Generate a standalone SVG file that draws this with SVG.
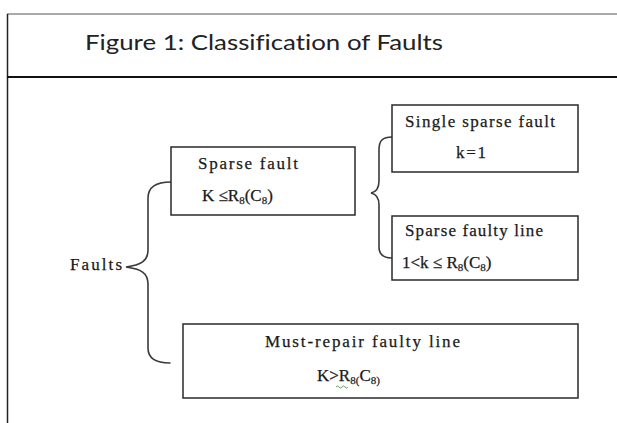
<svg xmlns="http://www.w3.org/2000/svg" width="617" height="423" viewBox="0 0 617 423">
<style>
.frame{fill:none}
.box{fill:#fff;stroke:#2a2a2a;stroke-width:1.5}
.brace{fill:none;stroke:#3a3a3a;stroke-width:1.6;stroke-linecap:round}
.title{font-family:Lato,"Liberation Sans",Arial,sans-serif;font-size:21px;fill:#222;font-variant-ligatures:none;font-feature-settings:"liga" 0}
.t{font-family:"Liberation Serif","Times New Roman",serif;font-size:17px;fill:#1a1a1a;stroke:#1a1a1a;stroke-width:0.25}
.sub{font-size:11px}
</style>
<rect width="617" height="423" fill="#fff"/>
<g id="frame">
<line class="frame" x1="7" y1="14" x2="617" y2="14" stroke-width="1.2" stroke="#555"/>
<line class="frame" x1="7.5" y1="14" x2="7.5" y2="423" stroke-width="1.5" stroke="#222"/>
<line class="frame" x1="7" y1="77" x2="617" y2="77" stroke-width="2.2" stroke="#111"/>
<text class="title" x="85" y="50" textLength="358" lengthAdjust="spacingAndGlyphs">Figure 1: Classification of Faults</text>
</g>
<g id="connectors">
<path class="brace" d="M171,182 C158,182 148,186 148,198 L148,250 C148,261 141,265 126,267 C141,269 148,273 148,284 L148,348 C148,358 156,363 170,363"/>
<path class="brace" d="M392,137 C383,137 379,140 379,150 L379,181 C379,189 376,192 371,193 C376,194 379,198 379,205 L379,247 C379,254 383,258 392,258"/>
</g>
<g id="faults">
<text class="t" x="70" y="270" textLength="52" lengthAdjust="spacing">Faults</text>
</g>
<g id="sparse-fault">
<rect class="box" x="171" y="147" width="184" height="68"/>
<text class="t" x="198" y="169" textLength="100" lengthAdjust="spacing">Sparse fault</text>
<text class="t" x="202" y="201">K ≤R<tspan class="sub" dy="3">8</tspan><tspan dy="-3">(C</tspan><tspan class="sub" dy="3">8</tspan><tspan dy="-3">)</tspan></text>
</g>
<g id="single-sparse-fault">
<rect class="box" x="392" y="105" width="186" height="67"/>
<text class="t" x="405" y="127" textLength="150" lengthAdjust="spacing">Single sparse fault</text>
<text class="t" x="456" y="158" textLength="30" lengthAdjust="spacing">k=1</text>
</g>
<g id="sparse-faulty-line">
<rect class="box" x="392" y="216" width="186" height="64"/>
<text class="t" x="405" y="236" textLength="138" lengthAdjust="spacing">Sparse faulty line</text>
<text class="t" x="402" y="268">1&lt;k ≤ R<tspan class="sub" dy="3">8</tspan><tspan dy="-3">(C</tspan><tspan class="sub" dy="3">8</tspan><tspan dy="-3">)</tspan></text>
</g>
<g id="must-repair-faulty-line">
<rect class="box" x="183" y="324" width="395" height="74"/>
<text class="t" x="265" y="347" textLength="195" lengthAdjust="spacing">Must-repair faulty line</text>
<text class="t" x="317" y="381">K&gt;R<tspan class="sub" dy="3">8(</tspan><tspan dy="-3">C</tspan><tspan class="sub" dy="3">8)</tspan></text>
<path d="M336,387 q1.5,-2 3,0 t3,0 t3,0 t3,0" fill="none" stroke="#3a8a3a" stroke-width="0.8"/>
</g>
</svg>
